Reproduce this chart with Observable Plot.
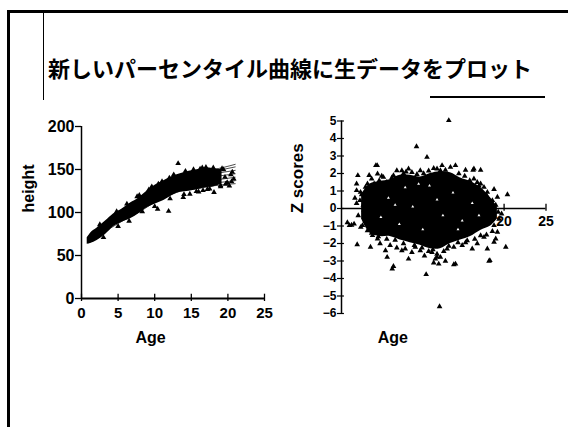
<!DOCTYPE html>
<html><head><meta charset="utf-8">
<script src="https://cdn.jsdelivr.net/npm/d3@7"></script>
<script src="https://cdn.jsdelivr.net/npm/@observablehq/plot@0.6"></script>
<style>
html,body{margin:0;padding:0;background:#fff;}
#slide{position:relative;width:568px;height:427px;overflow:hidden;background:#fff;}
.abs{position:absolute;}
#title{left:48px;top:56px;font-family:"Noto Sans CJK JP",sans-serif;font-size:22px;line-height:22px;font-weight:bold;white-space:nowrap;color:#000;}
</style></head><body>
<div id="slide">
  <div class="abs" style="left:7px;top:10px;width:3px;height:417px;background:#000"></div>
  <div class="abs" style="left:7px;top:10px;width:561px;height:2.5px;background:#000"></div>
  <div class="abs" style="left:42.5px;top:12px;width:1.2px;height:88px;background:#000"></div>
  <div class="abs" style="left:430px;top:96px;width:115px;height:1.5px;background:#000"></div>
  <div id="title" class="abs">新しいパーセンタイル曲線に生データをプロット</div>
  <div id="left" class="abs" style="left:0;top:100px"></div>
  <div id="right" class="abs" style="left:280px;top:100px"></div>
</div>
<script>
// ---------- data ----------
// Left panel: height vs age
const heightTicks = [0, 50, 100, 150, 200];
const ageTicks = [0, 5, 10, 15, 20, 25];
// dense band of raw data
const bandAge  = [0.78, 1.23, 2.14, 3.28, 4.41, 5.55, 6.69, 7.83, 8.97, 10.1, 11.25, 12.4, 13.5, 14.7, 15.8, 16.9, 18.1, 19.2];
const bandLow  = [63, 64, 67.4, 74.4, 83.7, 88.8, 92.6, 98.5, 105.4, 110, 114, 119.8, 123.6, 124.8, 126.4, 128.7, 130, 133];
const bandHigh = [70.5, 76, 82, 90, 98.5, 104, 111, 117, 125, 132, 137, 142, 145, 148, 149.6, 152, 151, 149.6];
// percentile curves (only their right ends show outside the band)
const pctAges = [1, 2, 4, 6, 8, 10, 12, 14, 16, 18, 21];
const p3  = [65, 69, 82, 92, 101, 112, 120, 126, 128, 131, 133.5];
const p10 = [66.5, 70.5, 84, 94, 104, 115, 123, 129, 131.5, 134, 137];
const p25 = [68, 72.5, 86, 97, 107, 118, 126.5, 132.5, 135.5, 137.5, 141];
const p50 = [69, 74, 88, 99, 109, 121, 129.5, 136, 139, 141.5, 145];
const p75 = [70.5, 76, 90, 101, 112, 124, 132.5, 139, 142.5, 145, 149];
const p90 = [72, 77.5, 91.5, 103, 114, 126.5, 135.5, 141.5, 145.5, 148, 153];
const p97 = [73, 79, 93, 105, 116, 129, 138, 144, 148, 150, 156];
// individual visible points (outliers and band edge)
const leftPoints = [
  [13.2,157],[11.9,101.5],[10.4,104],[9.2,126.5],[13.9,117.5],[18.1,123.5],[15.7,124.5],
  [20.2,131],[20.8,139],[19.6,141],[20.4,144],[19.9,135],[18.7,146],[17.0,152.5],[16.2,150.5],
  [19.4,150],[10.5,133],[7.6,118.5],[12.6,144],[14.8,121.5],[17.5,127.5],[16.6,125.6],[19.0,131.5],
  [20.6,147],[18.4,137],[2.5,86],[4.8,101],[6.2,110],[7.9,120],[9.6,130],[11.0,136],[12.0,140],
  [14.2,148],[15.3,150],[16.5,152],[18.0,152],[19.2,151],[3.0,71],[5.0,84],[6.5,90],[8.3,101],
  [10.0,107],[12.1,116],[14.0,121],[16.0,124],[17.2,127],[19.0,130],[19.7,133],[20.5,136]
];

// Right panel: Z scores vs age
const zTicks = [5, 4, 3, 2, 1, 0, -1, -2, -3, -4, -5, -6];
const zAgeTicks = [20, 25];
const cloudAge  = [3.0, 4.0, 5.2, 6.4, 7.6, 8.8, 10.0, 11.2, 12.4, 13.6, 14.8, 16.0, 17.2, 18.4, 19.2];
const cloudLow  = [-0.6, -1.4, -1.6, -1.6, -1.8, -1.95, -2.1, -2.3, -2.3, -2.0, -1.8, -1.6, -1.25, -1.0, -0.6];
const cloudHigh = [0.8, 1.4, 1.55, 1.65, 1.9, 1.9, 1.8, 2.0, 2.1, 2.05, 1.75, 1.55, 1.2, 0.6, 0.1];
const rightPoints = [
  [13.4,5.03],[9.55,3.54],[10.8,2.93],[10.7,-3.77],[12.3,-5.6],[20.4,0.8],[20.2,-2.2],[18.3,-2.97],
  [19.0,-1.73],[2.55,1.89],[2.47,-2.06],[1.55,-0.97],[4.86,2.46],[15.4,2.2],[16.3,2.2],[17.2,2.2],
  [14.0,-3.2],[6.65,-3.45],[6.8,-3.3],[12.0,-2.78],[11.6,-3.1],
  [1.3,-0.8],[1.8,-0.95],[2.1,-0.88],[2.4,1.41],[2.4,1.03],[2.87,0.93],[3.46,1.22],[2.4,0.3],[2.8,0.46],
  [3.9,1.9],[4.7,2.46],[4.06,-2.2],[5.85,-2.4],[6.05,-2.78],[7.8,-2.4],[8.2,-2.3],[8.6,-2.88],
  [9.4,-2.2],[10.0,-2.4],[11.4,-2.5],[11.8,-2.88],[12.2,-3.17],[12.0,-2.6],[12.4,-2.78],[13.0,-3.0],
  [14.2,-3.17],[13.2,-2.3],[14.0,-2.2],[15.0,-2.1],[15.6,-1.83],[16.2,-2.3],[16.8,-2.0],[17.6,-1.64],
  [18.0,-2.3],[18.2,-3.0],[18.8,-1.92],[19.2,-1.35],[18.8,-0.97],[19.4,-0.6],[19.7,-0.3],[18.6,0.46],
  [19.2,0.65],[18.0,0.93],[18.8,1.1],[17.2,1.41],[17.6,1.22],[16.4,1.7],[16.8,1.5],[16.4,2.27],
  [13.6,2.36],[14.2,2.46],[12.6,2.46],[12.0,2.27],[12.4,2.17],[10.0,2.17],[10.4,2.0],[8.6,2.27],
  [9.0,2.07],[7.8,2.17],[8.0,2.0],[6.8,1.89],[7.2,2.17],[5.6,1.79],[6.0,1.5],[4.9,1.98],[5.1,1.6],
  [4.5,1.41],[3.7,1.41],[3.9,0.65],[3.5,0.46],[3.3,-0.1],[3.3,-0.5],[3.1,-0.97],[3.7,-1.26],
  [4.3,-1.54],[4.9,-1.73],[5.2,-2.0],[2.9,-1.07],[6.4,-2.1],[7.2,-2.25],[9.0,-2.5],[10.5,-2.7],[11.0,-2.45],
  [4.2,1.7],[5.4,1.85],[6.6,1.75],[8.3,2.1],[9.6,1.95],[11.0,2.15],[11.6,2.3],[13.0,2.2],[14.6,2.0],
  [15.3,1.85],[15.9,1.6],[17.0,1.3],[17.9,0.75],[18.3,0.3],[19.0,0.2],[19.3,-0.2],[18.5,-0.6],
  [18.6,-1.3],[17.9,-1.5],[17.2,-1.55],[16.5,-1.75],[15.4,-1.95],[14.5,-1.95],[13.4,-2.15],[12.8,-2.45],
  [11.5,-2.35],[10.2,-2.25],[9.3,-2.1],[8.0,-2.0],[7.0,-1.8],[6.0,-1.75],[5.0,-1.6],[4.2,-1.4],
  [3.6,-0.8],[3.2,0.2],[3.0,0.8],[3.6,1.0],[2.6,-0.4],[2.2,0.6]
];
// small white gaps visible inside the dense cloud
const cloudGaps = [
  [6.2,0.6],[7.5,-0.9],[8.2,1.2],[9.1,0.1],[10.3,-1.2],[11.1,1.3],[12.7,-0.4],[13.9,0.9],[15.0,-0.7],
  [16.2,0.3],[5.3,-0.5],[9.8,1.4],[12.0,0.5],[14.5,-1.2],[7.0,0.2],[17.0,-0.4]
];

// ---------- drawing ----------
const font = "'Liberation Sans', Arial, sans-serif";
const pctSeries = [p3, p10, p25, p50, p75, p90, p97];
const pctRows = pctSeries.flatMap((s, k) => s.map((v, i) => ({k, age: pctAges[i], h: v})));

const leftChart = Plot.plot({
  width: 290, height: 260,
  marginLeft: 81, marginRight: 26, marginTop: 26, marginBottom: 62,
  x: {domain: [0, 25]},
  y: {domain: [0, 200]},
  style: {fontFamily: font, fontWeight: "bold", color: "#000", background: "transparent", overflow: "visible"},
  marks: [
    Plot.axisY({ticks: heightTicks, tickSize: 6, tickPadding: 1, fontSize: 16, label: null, strokeWidth: 1.3}),
    Plot.axisX({ticks: ageTicks, tickSize: 3, tickPadding: 6, fontSize: 15, label: null, strokeWidth: 1.3}),
    Plot.ruleX(ageTicks, {x: d => d, y1: 0, y2: 5, strokeWidth: 1.3}),
    Plot.ruleX([0], {y1: 0, y2: 200, strokeWidth: 1.5}),
    Plot.ruleY([0], {x1: 0, x2: 25, strokeWidth: 2}),
    Plot.line(pctRows, {x: "age", y: "h", z: "k", stroke: "#000", strokeWidth: 0.7, curve: "monotone-x"}),
    Plot.areaY(bandAge, {x: bandAge, y1: bandLow, y2: bandHigh, fill: "#000", curve: "monotone-x"}),
    Plot.dot(leftPoints, {x: d => d[0], y: d => d[1], symbol: "triangle", r: 2.1, fill: "#000"}),
    Plot.text(["height"], {frameAnchor: "left", dx: -53, rotate: -90, fontSize: 16, fontWeight: "bold"}),
    Plot.text(["Age"], {frameAnchor: "bottom", dx: -22.5, dy: 44, fontSize: 16, fontWeight: "bold"})
  ]
});
document.getElementById("left").append(leftChart);

const rightChart = Plot.plot({
  width: 288, height: 260,
  marginLeft: 61, marginRight: 22.5, marginTop: 20.5, marginBottom: 47,
  x: {domain: [0.6, 25], axis: null},
  y: {domain: [-6, 5]},
  style: {fontFamily: font, fontWeight: "bold", color: "#000", background: "transparent", overflow: "visible"},
  marks: [
    Plot.axisY({ticks: zTicks, tickSize: 4, tickPadding: 1, fontSize: 12, label: null, strokeWidth: 1.2}),
    Plot.ruleY(zTicks, {y: d => d, x1: 0.6, x2: 0.95, strokeWidth: 1.2}),
    Plot.ruleX([0.6], {y1: -6, y2: 5, strokeWidth: 1.5}),
    Plot.ruleY([0], {x1: 0.6, x2: 25, strokeWidth: 1.5}),
    Plot.ruleX(zAgeTicks, {x: d => d, y1: -0.15, y2: 0.25, strokeWidth: 1.3}),
    Plot.text(zAgeTicks, {x: d => d, y: 0, dy: 13, text: d => String(d), fontSize: 14, fontWeight: "bold"}),
    Plot.areaY(cloudAge, {x: cloudAge, y1: cloudLow, y2: cloudHigh, fill: "#000", curve: "catmull-rom"}),
    Plot.dot(rightPoints, {x: d => d[0], y: d => d[1], symbol: "triangle", r: 2.1, fill: "#000"}),
    Plot.dot(cloudGaps, {x: d => d[0], y: d => d[1], symbol: "triangle", r: 1.1, fill: "#fff"}),
    Plot.text(["Z scores"], {frameAnchor: "left", dx: -44, dy: -4, rotate: -90, fontSize: 17, fontWeight: "bold"}),
    Plot.text(["Age"], {frameAnchor: "bottom", dx: -51, dy: 29, fontSize: 16, fontWeight: "bold"})
  ]
});
document.getElementById("right").append(rightChart);
</script>
</body></html>
